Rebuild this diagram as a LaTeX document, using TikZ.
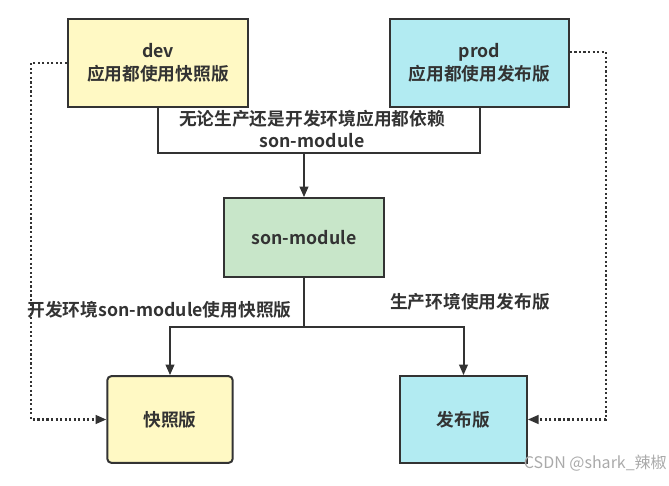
\documentclass[tikz,border=0pt]{standalone}
\usepackage{fontspec}
\setmainfont{Noto Sans CJK SC}[BoldFont={Noto Sans CJK SC Bold}]
\usetikzlibrary{arrows.meta}

\definecolor{snapyellow}{RGB}{255,249,196}
\definecolor{releasecyan}{RGB}{178,235,242}
\definecolor{modulegreen}{RGB}{200,230,201}
\definecolor{edgegrey}{RGB}{51,51,51}

\begin{document}
\begin{tikzpicture}[x=0.75pt,y=0.75pt,yscale=-1,xscale=1,
    box/.style={draw=edgegrey, line width=1.5pt, align=center, inner sep=0pt,
      font=\bfseries\fontsize{13.3}{17}\selectfont, text=edgegrey},
    lbl/.style={align=center, inner sep=0.75pt,
      font=\bfseries\fontsize{13.3}{16.5}\selectfont, text=edgegrey},
    link/.style={draw=edgegrey, line width=1.5pt},
    arr/.style={link, -{Triangle[length=8pt,width=6.5pt]}},
    dotlink/.style={draw=edgegrey, line width=1.6pt, dash pattern=on 1.6pt off 1.8pt,
      -{Triangle[length=8pt,width=6.5pt]}}]
    \useasboundingbox (0,0) rectangle (669,486);

    % Shape: top boxes
    \node [box, fill=snapyellow, minimum width=135pt, minimum height=66pt] (dev) at (158,63) {dev\\应用都使用快照版};
    \node [box, fill=releasecyan, minimum width=134pt, minimum height=66pt] (prod) at (479.5,63) {prod\\应用都使用发布版};
    % Shape: module box
    \node [box, fill=modulegreen, minimum width=120pt, minimum height=59pt] (son) at (304,237.5) {son-module};
    % Shape: bottom boxes
    \node [box, fill=snapyellow, rounded corners=3pt, minimum width=94pt, minimum height=65pt] (snap) at (170,419.5) {快照版};
    \node [box, fill=releasecyan, minimum width=95pt, minimum height=65pt] (rel) at (463.5,419.5) {发布版};

    % Connectors
    \coordinate (join) at (304,153);
    \coordinate (split) at (304,327);
    \draw [link] (dev.south) |- (join) -| (prod.south);
    \draw [arr] (join) -- (son.north);
    \draw [arr] (son.south) -- (split) -| (snap.north);
    \draw [arr] (split) -| (rel.north);
    \draw [dotlink] (dev.west) -- ++(-36,0) |- (snap.west);
    \draw [dotlink] (prod.east) ++(0,-11) -- ++(36,0) |- (rel.east);

    % Text Node
    \node [lbl] (needs) at (312,129) {无论生产还是开发环境应用都依赖\\son-module};
    % Text Node
    \node [lbl] (devuse) at (159.5,310) {开发环境son-module使用快照版};
    % Text Node
    \node [lbl] (produse) at (470,302) {生产环境使用发布版};
    % Text Node
    \node [anchor=east, inner sep=0pt, text={rgb,255:red,170;green,170;blue,170}, font=\fontsize{12}{14}\selectfont] (mark) at (667,463) {CSDN @shark\_辣椒};

\end{tikzpicture}
\end{document}
